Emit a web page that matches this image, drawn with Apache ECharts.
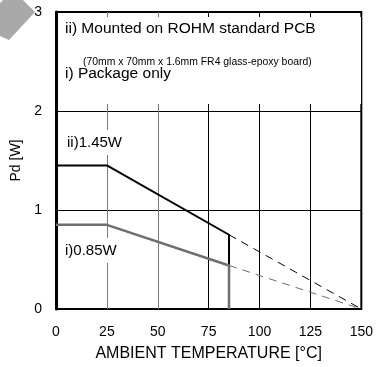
<!DOCTYPE html>
<html>
<head>
<meta charset="utf-8">
<script src="https://cdn.jsdelivr.net/npm/echarts@6/dist/echarts.min.js"></script>
<style>
html,body{margin:0;padding:0;background:#fff;}
#c{width:376px;height:367px;}
</style>
</head>
<body>
<div id="c"></div>
<script>
const xTicks = [0, 25, 50, 75, 100, 125, 150];
const yTicks = [0, 1, 2, 3];
const mountedTemp = [0, 25, 85, 85];
const mountedPd = [1.45, 1.45, 0.75, 0];
const packageTemp = [0, 25, 85, 85];
const packagePd = [0.85, 0.85, 0.44, 0];
const extrapTemp = [85, 150];
const mountedExtrap = [0.75, 0];
const packageExtrap = [0.44, 0];

const FONT = 'Liberation Sans, Arial, sans-serif';
const zip = (xs, ys) => xs.map((x, i) => [x, ys[i]]);

const chart = echarts.init(document.getElementById('c'));
chart.setOption({
  animation: false,
  backgroundColor: '#fff',
  grid: { left: 56, right: 13, top: 12, bottom: 55, show: true, borderColor: '#000', borderWidth: 2, backgroundColor: 'transparent' },
  xAxis: {
    type: 'value', min: xTicks[0], max: xTicks[xTicks.length - 1], interval: 25,
    axisLine: { show: false }, axisTick: { show: false },
    axisLabel: { color: '#000', fontSize: 14, fontFamily: FONT, margin: 16 },
    splitLine: { show: true, lineStyle: { width: 1, color: ['#000', '#7a7a7a', '#7a7a7a', '#000', '#000', '#000', '#000'] } },
    name: 'AMBIENT TEMPERATURE [°C]', nameLocation: 'middle', nameGap: 37,
    nameTextStyle: { color: '#000', fontSize: 16, fontFamily: FONT }
  },
  yAxis: {
    type: 'value', min: yTicks[0], max: yTicks[yTicks.length - 1], interval: 1,
    axisLine: { show: true, lineStyle: { color: '#000', width: 3 } }, axisTick: { show: false },
    axisLabel: { color: '#000', fontSize: 14, fontFamily: FONT, margin: 14 },
    splitLine: { show: true, lineStyle: { width: 1, color: '#000' } },
    name: 'Pd [W]', nameLocation: 'middle', nameGap: 28,
    nameTextStyle: { color: '#000', fontSize: 14, fontFamily: FONT }
  },
  graphic: [
    { type: 'polygon', z: 5, shape: { points: [[3, 0], [23, 0], [35, 12], [9, 40], [0, 36], [0, 3]] }, style: { fill: '#a9a9a9' } },
    { type: 'rect', z: 1, shape: { x: 58, y: 17, width: 303, height: 87 }, style: { fill: '#fff' } },
    { type: 'text', z: 3, left: 65, top: 21, style: { text: 'ii) Mounted on ROHM standard PCB', fill: '#000', font: '15.5px ' + FONT } },
    { type: 'text', z: 3, left: 83, top: 57, style: { text: '(70mm x 70mm x 1.6mm FR4 glass-epoxy board)', fill: '#000', font: '10.4px ' + FONT } },
    { type: 'text', z: 3, left: 65, top: 66, style: { text: 'i) Package only', fill: '#000', font: '15.5px ' + FONT } },
    { type: 'text', z: 3, left: 63, top: 130, style: { text: 'ii)1.45W', fill: '#000', font: '15px ' + FONT, backgroundColor: '#fff', padding: [5, 4, 5, 4] } },
    { type: 'text', z: 3, left: 61, top: 238, style: { text: 'i)0.85W', fill: '#000', font: '15px ' + FONT, backgroundColor: '#fff', padding: [5, 4, 5, 4] } }
  ],
  series: [
    { type: 'line', data: zip(extrapTemp, mountedExtrap), symbol: 'none', z: 2, lineStyle: { color: '#000', width: 1, type: [8, 6] } },
    { type: 'line', data: zip(extrapTemp, packageExtrap), symbol: 'none', z: 2, lineStyle: { color: '#6e6e6e', width: 1, type: [8, 6] } },
    { type: 'line', data: zip(mountedTemp, mountedPd), symbol: 'none', z: 3, lineStyle: { color: '#000', width: 2 } },
    { type: 'line', data: zip(packageTemp, packagePd), symbol: 'none', z: 4, lineStyle: { color: '#6e6e6e', width: 2.5 } }
  ]
});
</script>
</body>
</html>
